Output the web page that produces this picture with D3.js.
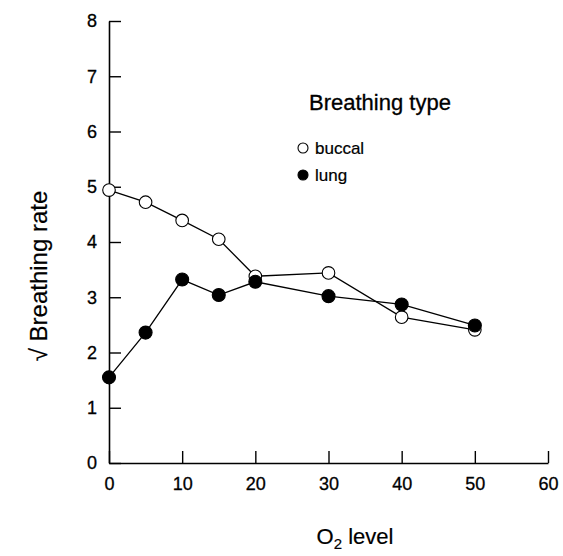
<!DOCTYPE html>
<html><head><meta charset="utf-8">
<script src="https://cdn.jsdelivr.net/npm/d3@7"></script>
<style>body{margin:0;background:#fff}</style>
</head><body>
<svg id="c" width="563" height="556"></svg>
<script>
const o2Levels = [0, 5, 10, 15, 20, 30, 40, 50];
const buccal = [4.94, 4.72, 4.39, 4.05, 3.38, 3.44, 2.64, 2.41];
const lung = [1.55, 2.36, 3.32, 3.04, 3.28, 3.02, 2.87, 2.49];
const xTicks = [0, 10, 20, 30, 40, 50, 60];
const yTicks = [0, 1, 2, 3, 4, 5, 6, 7, 8];

const svg = d3.select("#c");
const font = "Liberation Sans, Arial, sans-serif";
const x = d3.scaleLinear().domain([0, 60]).range([109, 548]);
const y = d3.scaleLinear().domain([0, 8]).range([463, 21]);

const xAxis = svg.append("g").attr("transform", "translate(0,463)")
  .call(d3.axisBottom(x).tickValues(xTicks).tickSize(-12).tickPadding(14).tickSizeOuter(0));
const yAxis = svg.append("g").attr("transform", "translate(109,0)")
  .call(d3.axisLeft(y).tickValues(yTicks).tickSize(-12).tickPadding(17).tickSizeOuter(0));
[xAxis, yAxis].forEach(a => {
  a.select(".domain").attr("stroke", "#000").attr("stroke-width", 1.6);
  a.selectAll(".tick line").attr("stroke", "#000").attr("stroke-width", 1.4);
  a.selectAll("text").attr("font-family", font).attr("font-size", 18).attr("fill", "#000")
    .attr("stroke", "#000").attr("stroke-width", 0.3);
});
yAxis.selectAll(".tick text").attr("dx", 5);

function series(vals, filled) {
  const pts = o2Levels.map((d, i) => [x(d), y(vals[i])]);
  svg.append("path").attr("d", d3.line()(pts)).attr("fill", "none")
    .attr("stroke", "#000").attr("stroke-width", 1.3);
  svg.append("g").selectAll("circle").data(pts).join("circle")
    .attr("cx", d => d[0]).attr("cy", d => d[1]).attr("r", filled ? 6.5 : 6.3)
    .attr("fill", filled ? "#000" : "#fff").attr("stroke", "#000").attr("stroke-width", 1.1);
}
series(buccal, false);
series(lung, true);

// legend
svg.append("text").attr("x", 309).attr("y", 110).attr("font-family", font)
  .attr("font-size", 22).attr("stroke", "#000").attr("stroke-width", 0.3).text("Breathing type");
const leg = [["buccal", false, 148], ["lung", true, 175]];
leg.forEach(([t, f, yy]) => {
  svg.append("circle").attr("cx", 303).attr("cy", yy).attr("r", 5)
    .attr("fill", f ? "#000" : "#fff").attr("stroke", "#000").attr("stroke-width", 1.1);
  svg.append("text").attr("x", 315).attr("y", yy + 6).attr("font-family", font)
    .attr("font-size", 17).attr("stroke", "#000").attr("stroke-width", 0.2).text(t);
});

// axis titles
const xt = svg.append("text").attr("x", 355).attr("y", 544).attr("text-anchor", "middle")
  .attr("font-family", font).attr("font-size", 22).attr("stroke", "#000").attr("stroke-width", 0.2);
xt.append("tspan").text("O");
xt.append("tspan").attr("font-size", 15).attr("dy", 5).text("2");
xt.append("tspan").attr("dy", -5).text(" level");

svg.append("text").attr("transform", "translate(47,276) rotate(-90)").attr("text-anchor", "middle")
  .attr("font-family", font).attr("font-size", 24).attr("stroke", "#000").attr("stroke-width", 0.2)
  .text("√ Breathing rate");
</script>
</body></html>
